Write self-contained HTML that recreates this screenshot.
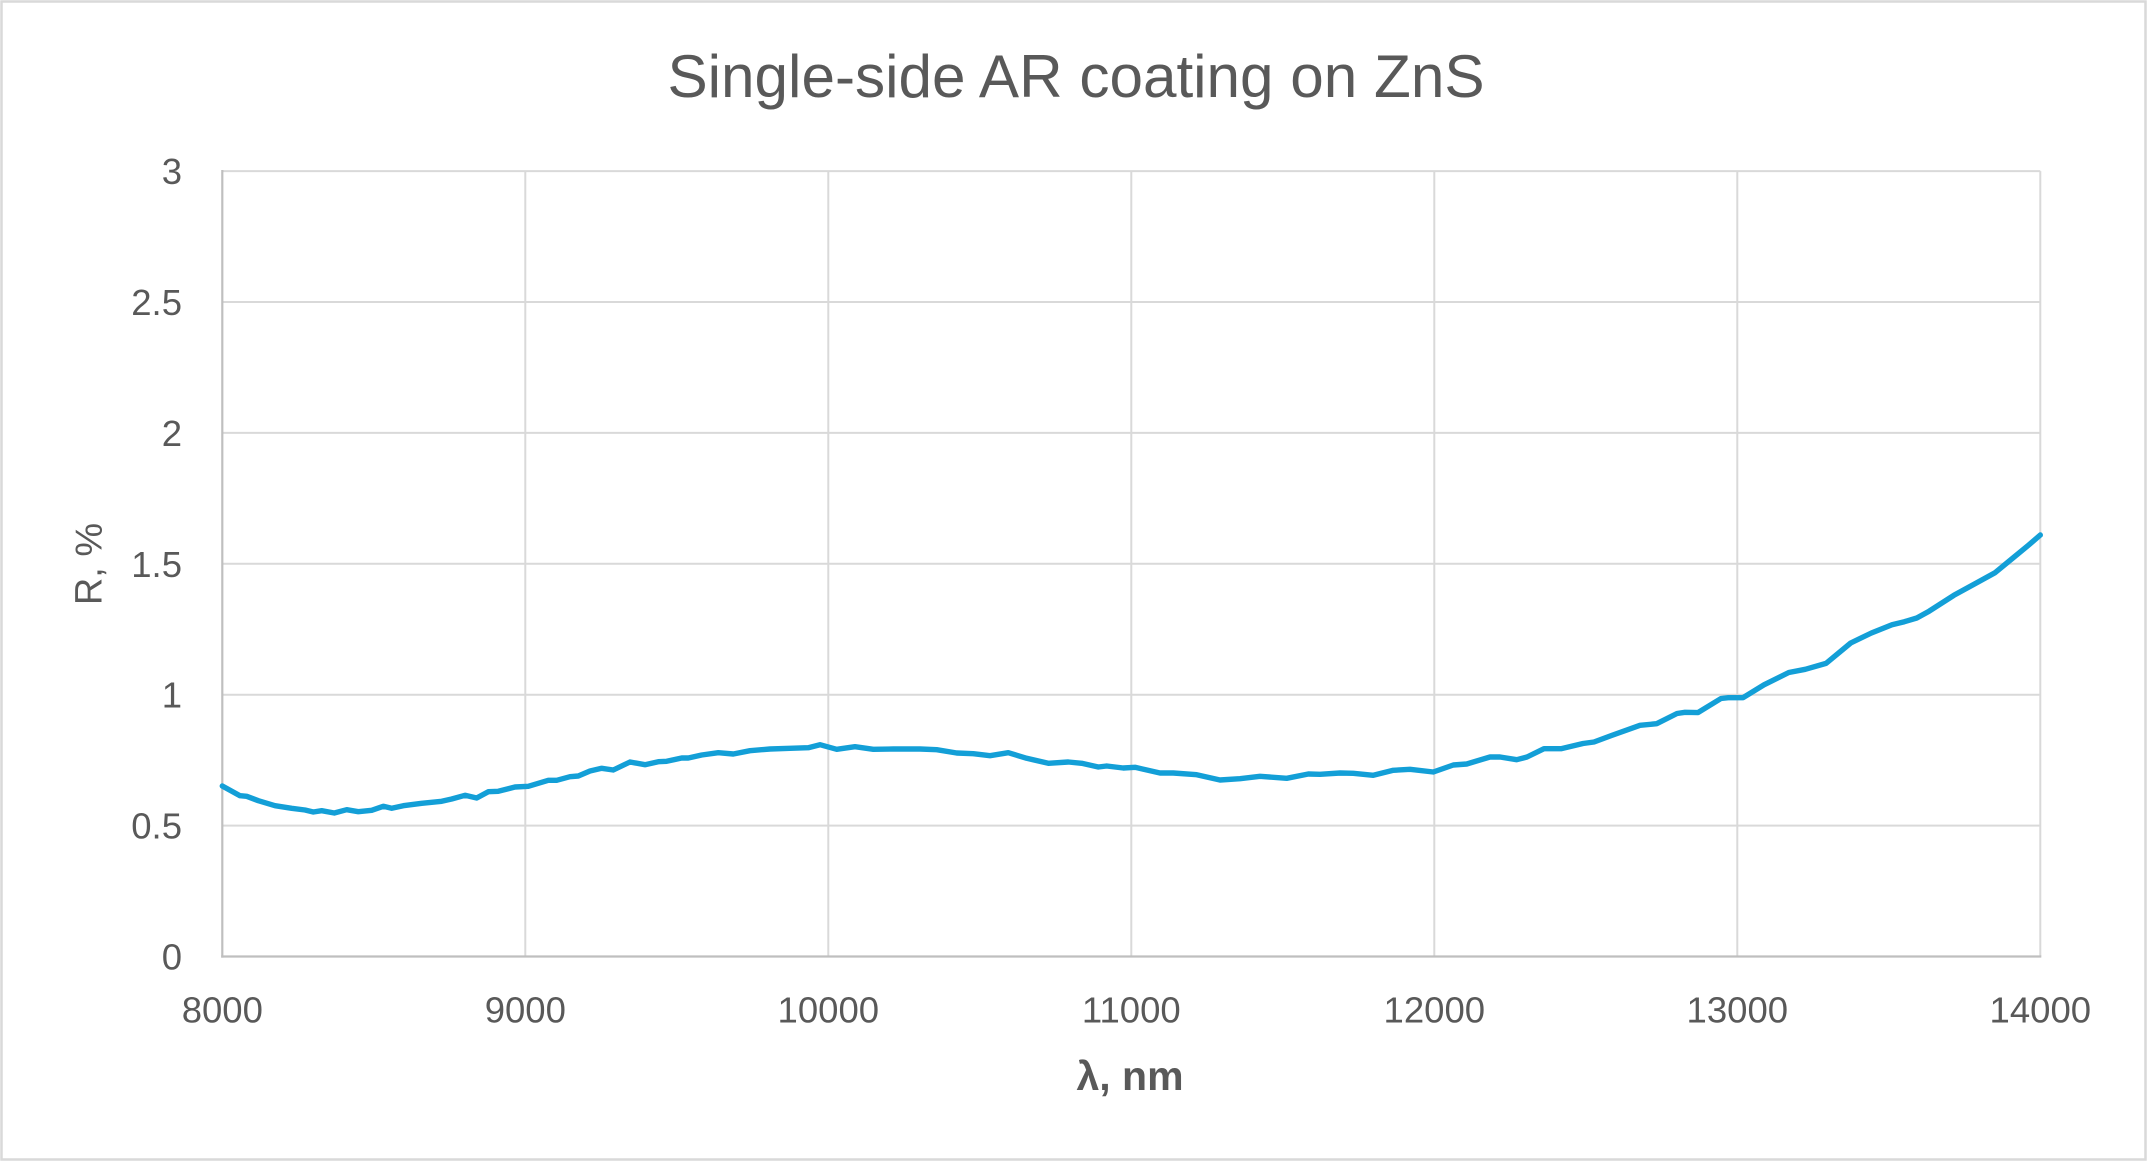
<!DOCTYPE html>
<html><head><meta charset="utf-8"><style>
html,body{margin:0;padding:0;background:#fff;}
svg{display:block;}
</style></head><body>
<svg width="2147" height="1162" viewBox="0 0 2147 1162" xmlns="http://www.w3.org/2000/svg">
<rect x="0" y="0" width="2147" height="1162" fill="#fff"/>
<rect x="1.5" y="1.5" width="2144" height="1158" fill="none" stroke="#d9d9d9" stroke-width="2.5"/>
<g stroke="#d9d9d9" stroke-width="2">
<line x1="222.3" y1="171.1" x2="2040.3" y2="171.1"/>
<line x1="222.3" y1="302" x2="2040.3" y2="302"/>
<line x1="222.3" y1="432.9" x2="2040.3" y2="432.9"/>
<line x1="222.3" y1="563.8" x2="2040.3" y2="563.8"/>
<line x1="222.3" y1="694.7" x2="2040.3" y2="694.7"/>
<line x1="222.3" y1="825.6" x2="2040.3" y2="825.6"/>
<line x1="525.3" y1="171.1" x2="525.3" y2="956.5"/>
<line x1="828.3" y1="171.1" x2="828.3" y2="956.5"/>
<line x1="1131.3" y1="171.1" x2="1131.3" y2="956.5"/>
<line x1="1434.3" y1="171.1" x2="1434.3" y2="956.5"/>
<line x1="1737.3" y1="171.1" x2="1737.3" y2="956.5"/>
<line x1="2040.3" y1="171.1" x2="2040.3" y2="956.5"/>
</g>
<g stroke="#bfbfbf" stroke-width="2.2">
<line x1="222.3" y1="170" x2="222.3" y2="957.6"/>
<line x1="221.2" y1="956.5" x2="2041.3" y2="956.5"/>
</g>
<polyline fill="none" stroke="#139fd7" stroke-width="5.4" stroke-linejoin="round" stroke-linecap="round" points="
222.3,786 240,795.7 246.7,796.3 258.3,800.7 275,805.7 291.7,808.3 305,810 313.3,812 321.7,810.7 334.3,813 346.7,809.7 358.3,811.7 371.7,810.3 383.3,806.3 391.7,808.3 403.3,805.7 421.7,803.3 441.7,801.3 451.7,799 465,795.3 476.7,798 488.3,791.7 498.3,791.3 515,787 528.3,786.3 548.3,780.3 556.7,780.3 570,776.7 578.3,776 590,771 601.7,768.3 613.3,770 630,762 645,764.7 658.3,761.7 666.7,761.3 681.7,758 688.3,758 701.7,755 718.3,752.7 733.3,754 750,750.7 770,749 790,748.3 808.3,747.7 820,744.7 836.7,749.3 855,746.7 873.3,749.3 893.3,749 920,749 936.7,749.7 956.7,753 973.3,753.7 990,755.7 1008.3,752.7 1026.7,758.3 1048.3,763.3 1068.3,762 1081.7,763.3 1098.3,767 1106.7,766 1123.3,768 1135,767.3 1160,773 1173.3,773 1196.7,774.7 1220,780 1240,778.7 1260,776.3 1286.7,778.3 1308.3,774 1320,774.3 1340,773 1353.3,773.3 1373.3,775.3 1393.3,770.3 1410,769.3 1433.3,772 1453.3,765 1466.7,764 1490,757 1500,757 1516.7,759.7 1527,757 1544,748.7 1561,748.7 1583,743.5 1594,742 1611.5,735.5 1640,725.3 1656.7,723.7 1677,713.5 1685,712.3 1698,712.6 1721,698.5 1728.3,697.7 1743,697.7 1764,684.8 1788.8,672.5 1805.3,669.3 1826,663.4 1850.7,643 1871.4,633 1892,624.8 1904.4,621.7 1916.8,618 1929.1,611.2 1953.9,595.3 1974.5,584 1995.2,572.6 2011.7,559 2028.2,545.4 2040.3,535"/>
<g font-family="Liberation Sans, Arial, sans-serif" fill="#595959">
<text x="1076" y="97" font-size="60" text-anchor="middle" textLength="817" lengthAdjust="spacingAndGlyphs">Single-side AR coating on ZnS</text>
<g font-size="36.5" text-anchor="end">
<text x="182" y="969.5">0</text>
<text x="182" y="838.6">0.5</text>
<text x="182" y="707.7">1</text>
<text x="182" y="576.8">1.5</text>
<text x="182" y="445.9">2</text>
<text x="182" y="315">2.5</text>
<text x="182" y="184.1">3</text>
</g>
<g font-size="36.5" text-anchor="middle">
<text x="222.3" y="1022.7">8000</text>
<text x="525.3" y="1022.7">9000</text>
<text x="828.3" y="1022.7">10000</text>
<text x="1131.3" y="1022.7">11000</text>
<text x="1434.3" y="1022.7">12000</text>
<text x="1737.3" y="1022.7">13000</text>
<text x="2040.3" y="1022.7">14000</text>
</g>
<text x="1130" y="1090" font-size="41" font-weight="bold" text-anchor="middle">λ, nm</text>
<text transform="translate(101.7,564) rotate(-90)" x="0" y="0" font-size="38" text-anchor="middle">R, %</text>
</g>
</svg>
</body></html>
